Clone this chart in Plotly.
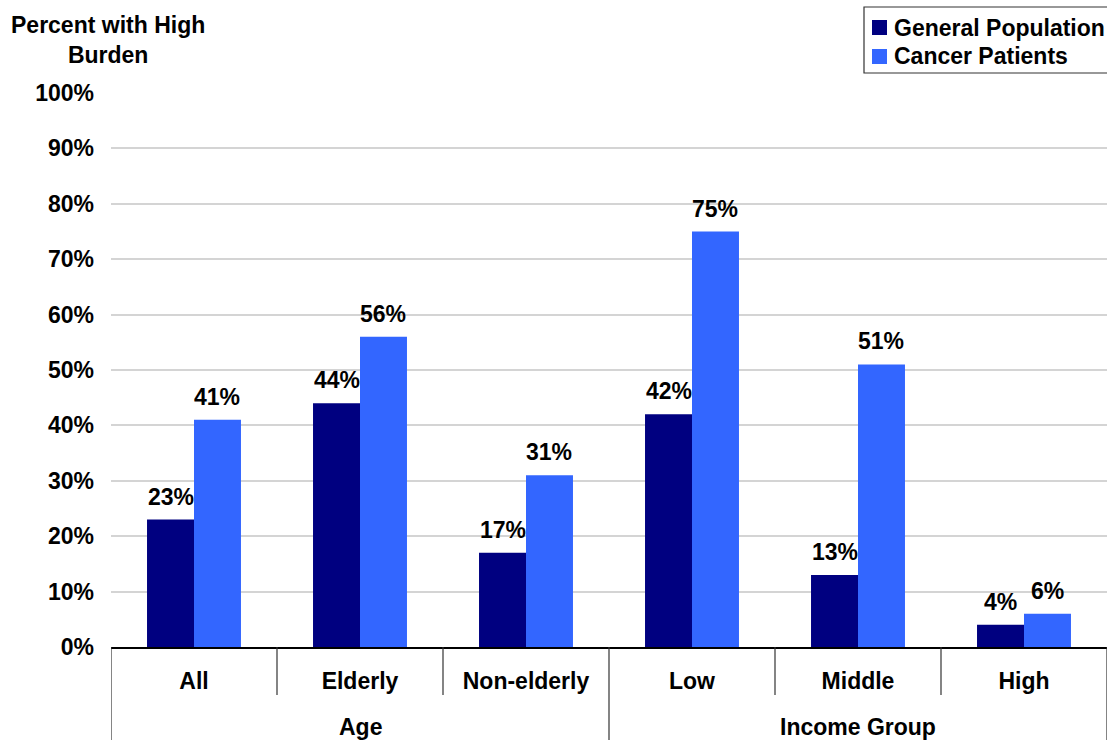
import plotly.graph_objects as go

categories = ["All", "Elderly", "Non-elderly", "Low", "Middle", "High"]
groups = ["Age", "Income Group"]
group_members = [["All", "Elderly", "Non-elderly"], ["Low", "Middle", "High"]]
series_names = ["General Population", "Cancer Patients"]
general_population = [23, 44, 17, 42, 13, 4]
cancer_patients = [41, 56, 31, 75, 51, 6]
y_ticks = [0, 10, 20, 30, 40, 50, 60, 70, 80, 90, 100]
y_tick_labels = [f"{v}%" for v in y_ticks]

FONT = "Liberation Sans, Arial, sans-serif"
FS = 23
NAVY = "#000080"
BLUE = "#3366FF"
COLORS = [NAVY, BLUE]
W, H = 1107, 740
L, R, T, B = 111, 0, 93, 93
PW = W - L - R
PH = H - T - B
BARGAP = 0.434

def py(pix_y):
    return (H - B - pix_y) / PH

def px(pix_x):
    return (pix_x - L) / PW

fig = go.Figure()
for name, vals, col in zip(series_names, [general_population, cancer_patients], COLORS):
    fig.add_trace(go.Bar(name=name, x=categories, y=vals, showlegend=False,
                         marker=dict(color=col, line=dict(width=0))))

# value labels
slot = PW / len(categories)
bar_w = slot * (1 - BARGAP) / 2
annotations = []
for series, sign in ((general_population, -1), (cancer_patients, 1)):
    for c, v in zip(categories, series):
        annotations.append(dict(x=c, y=v, xref="x", yref="y", text=f"<b>{v}%</b>",
                                showarrow=False, xshift=sign * bar_w / 2, yanchor="bottom",
                                yshift=8, font=dict(family=FONT, size=FS, color="black")))

# group labels
for g, members in zip(groups, group_members):
    idx = [categories.index(m) for m in members]
    annotations.append(dict(x=sum(idx) / len(idx), y=py(727), xref="x", yref="paper",
                            text=f"<b>{g}</b>", showarrow=False, yanchor="middle",
                            font=dict(family=FONT, size=FS, color="black")))

# y-axis title
annotations.append(dict(x=px(108), y=py(40), xref="paper", yref="paper",
                        text="<b>Percent with High<br>Burden</b>", showarrow=False,
                        xanchor="center", yanchor="middle", align="center",
                        font=dict(family=FONT, size=FS, color="black")))

shapes = []
# separators between categories (short) and groups (long)
group_bounds = {-0.5}
pos = -0.5
for members in group_members:
    pos += len(members)
    group_bounds.add(pos)
for i in range(len(categories) + 1):
    xpos = i - 0.5
    long = xpos in group_bounds
    shapes.append(dict(type="line", xref="x", yref="paper", x0=xpos, x1=xpos,
                       y0=0, y1=py(740) if long else py(695),
                       line=dict(color="#333333", width=1.2)))

# legend box (drawn)
shapes.append(dict(type="rect", xref="paper", yref="paper", x0=px(864), x1=px(1112),
                   y0=py(73), y1=py(7), line=dict(color="#333333", width=1.2),
                   fillcolor="white", layer="above"))
for k, (name, col) in enumerate(zip(series_names, COLORS)):
    cy = 27.5 + k * 29
    shapes.append(dict(type="rect", xref="paper", yref="paper", x0=px(872), x1=px(887),
                       y0=py(cy + 7.5), y1=py(cy - 7.5), line=dict(width=0),
                       fillcolor=col, layer="above"))
    annotations.append(dict(x=px(892), y=py(cy), xref="paper", yref="paper",
                            text=f"<b>{name}</b>", showarrow=False, xanchor="left",
                            yanchor="middle", font=dict(family=FONT, size=FS, color="black")))

fig.update_layout(
    width=W, height=H,
    margin=dict(l=L, r=R, t=T, b=B, pad=0),
    paper_bgcolor="white", plot_bgcolor="white",
    barmode="group", bargap=BARGAP, bargroupgap=0,
    font=dict(family=FONT, size=FS, color="black"),
    showlegend=False,
    annotations=annotations,
    shapes=shapes,
)
fig.update_xaxes(type="category", categoryorder="array", categoryarray=categories,
                 tickvals=categories, ticktext=[f"<b>{c}</b>" for c in categories],
                 showline=True, linecolor="black", linewidth=1.5, ticks="",
                 showgrid=False, ticklabelstandoff=13, range=[-0.5, len(categories) - 0.5],
                 tickfont=dict(family=FONT, size=FS, color="black"))
fig.update_yaxes(range=[0, 100], tickvals=y_ticks,
                 ticktext=[f"<b>{t}</b>" for t in y_tick_labels],
                 showgrid=True, gridcolor="#d4d4d4", gridwidth=1.5, zeroline=False,
                 showline=False, ticks="", ticklabelstandoff=16,
                 tickfont=dict(family=FONT, size=FS, color="black"))

fig.write_html("out.html")
